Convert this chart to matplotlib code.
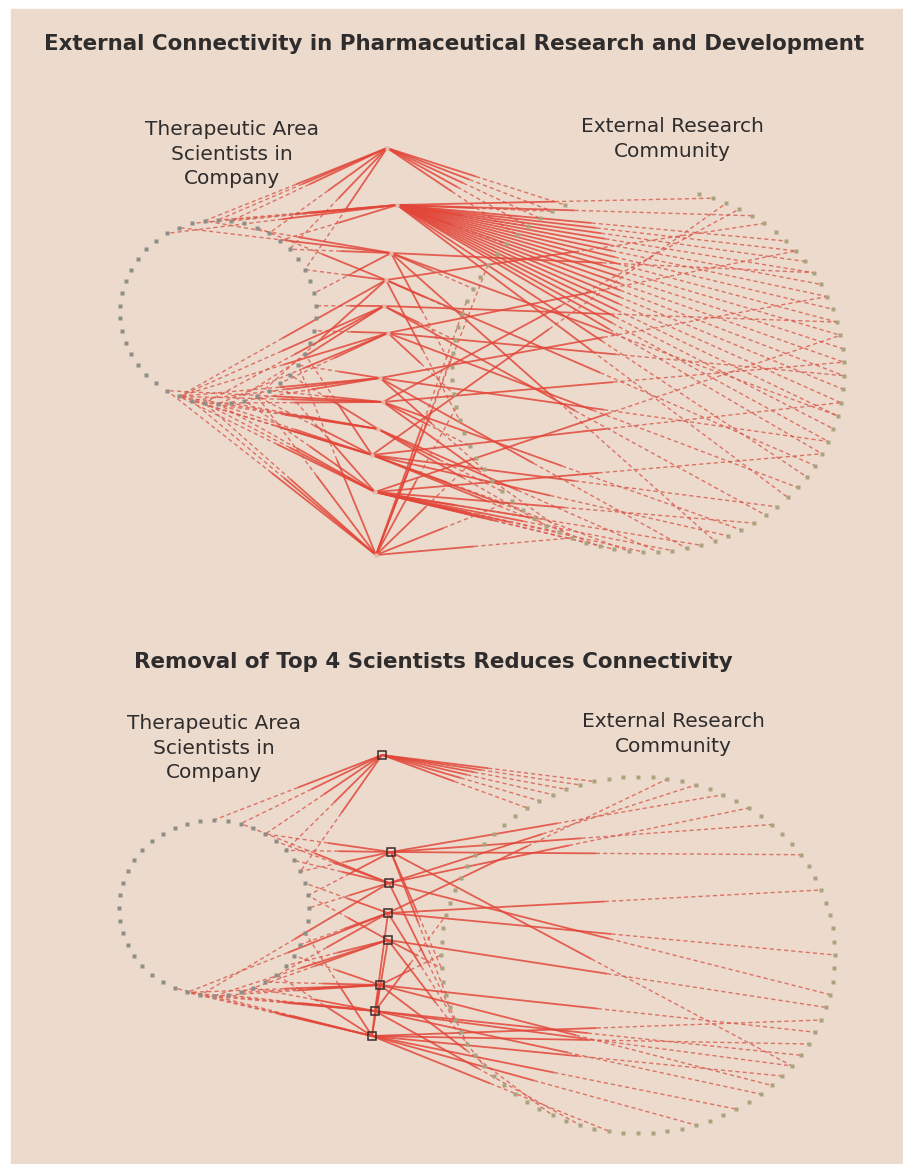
import numpy as np
import matplotlib
matplotlib.use("Agg")
import matplotlib.pyplot as plt
from matplotlib.patches import Rectangle

# ---- data ----
# top network: hub scientists in the middle column
top_hub_x = [387, 397, 391, 386, 384, 388, 380, 383, 378, 372, 375, 376]
top_hub_y = [148, 205, 253, 280, 306, 333, 378, 402, 429, 455, 492, 555]
# links hub -> external community node (index on right ring)
top_right_links = [
    [71, 72, 73, 74, 75],
    [1, 4, 7, 8, 9, 10, 11, 12, 13, 14, 15, 16, 17, 18, 19, 20, 21, 22, 23, 24, 26, 28, 70, 72, 74],
    [10, 21, 34, 60, 66],
    [5, 25, 56, 64],
    [14, 30, 62],
    [8, 18, 27, 58],
    [12, 23, 36, 52],
    [3, 17, 32, 44, 54],
    [38, 46, 50],
    [20, 29, 33, 40, 42, 48, 2],
    [15, 24, 31, 35, 37, 41, 43, 45, 47, 39],
    [44, 53, 57, 61, 65, 68, 49],
]
# links hub -> company scientist node (index on left ring)
top_left_links = [
    [0, 1, 45, 42, 40, 38],
    [0, 2, 4, 45, 41],
    [1, 3, 40, 36],
    [43, 38, 26, 20],
    [22, 24, 35, 20],
    [20, 23, 28, 33],
    [21, 25, 30, 20],
    [20, 22, 27, 19],
    [20, 24, 29, 21],
    [20, 21, 26, 31, 23],
    [20, 23, 25, 28, 22],
    [19, 22, 26, 30, 21],
]

# bottom network: same after removal of the top 4 hubs
bot_hub_x = [382, 391, 389, 388, 388, 380, 375, 372]
bot_hub_y = [755, 852, 883, 913, 940, 985, 1011, 1036]
bot_right_links = [
    [76, 77, 78, 79, 80, 81],
    [6, 60, 13, 30, 62, 10],
    [8, 56, 24, 4],
    [2, 21, 58, 16],
    [25, 62, 54],
    [27, 48, 32, 63],
    [30, 33, 46, 29, 66],
    [28, 35, 38, 44, 31, 26],
]
bot_left_links = [
    [0, 42, 40, 38, 36],
    [40, 38, 36, 34],
    [42, 37, 33, 21, 39],
    [35, 30, 26, 20],
    [34, 28, 24, 22],
    [22, 24, 26, 29, 20],
    [21, 23, 25, 20],
    [20, 22, 27, 31, 19],
]
bot_hub_pairs = [(5, 6), (6, 7), (7, 4), (6, 3)]

# ring layouts: centre x, centre y, radius x, radius y, node count, start angle, span
top_left_ring = (218, 312, 98, 92, 46, 90, 360)
top_right_ring = (648, 370, 196, 182, 76, 75, -320)
bot_left_ring = (214, 908, 95, 88, 44, 90, 360)
bot_right_ring = (638, 955, 197, 178, 84, 90, -360)

BG = "#ecdacc"
RED = "#e2473a"
RED_DASH = "#d9584c"


def ring(cx, cy, rx, ry, n, start, span):
    step = span / n if abs(span) == 360 else span / (n - 1)
    a = np.radians(start + step * np.arange(n))
    return cx + rx * np.cos(a), cy - ry * np.sin(a)


def edge(ax, p, q):
    # solid half at the hub end, dashed half at the ring end
    m = ((p[0] + q[0]) / 2, (p[1] + q[1]) / 2)
    ax.plot([p[0], m[0]], [p[1], m[1]], color=RED, lw=1.3, alpha=0.85,
            solid_capstyle="butt", zorder=2)
    ax.plot([m[0], q[0]], [m[1], q[1]], color=RED_DASH, lw=1.0, alpha=0.8,
            dashes=(3, 2.2), zorder=2)


def network(ax, hx, hy, lring, rring, llinks, rlinks, dark_hubs, pairs=()):
    lx, ly = ring(*lring)
    rx, ry = ring(*rring)
    for i in range(len(hx)):
        for j in llinks[i]:
            edge(ax, (hx[i], hy[i]), (lx[j], ly[j]))
        for k in rlinks[i]:
            edge(ax, (hx[i], hy[i]), (rx[k], ry[k]))
    for a, b in pairs:
        ax.plot([hx[a], hx[b]], [hy[a], hy[b]], color=RED, lw=1.3, alpha=0.85, zorder=2)
    ax.plot(lx, ly, "s", ms=3.4, color="#8e8d88", mec="none", zorder=3)
    ax.plot(rx, ry, "s", ms=3.4, color="#a9a47f", mec="none", zorder=3)
    if dark_hubs:
        ax.plot(hx, hy, "s", ms=6, mfc="none", mec="#3b2b2b", mew=1.1, zorder=4)
    else:
        ax.plot(hx, hy, "s", ms=3, color="#e9b9a9", mec="none", zorder=4)


fig = plt.figure(figsize=(9.04, 11.64), dpi=100, facecolor="white")
ax = fig.add_axes([0, 0, 1, 1])
ax.set_xlim(0, 904)
ax.set_ylim(1164, 0)
ax.axis("off")
ax.add_patch(Rectangle((11, 9), 893, 1155, color=BG, zorder=0))

network(ax, top_hub_x, top_hub_y, top_left_ring, top_right_ring,
        top_left_links, top_right_links, False)
network(ax, bot_hub_x, bot_hub_y, bot_left_ring, bot_right_ring,
        bot_left_links, bot_right_links, True, bot_hub_pairs)

title_kw = dict(ha="center", va="center", fontsize=15.4, fontweight="bold",
                color="#2e2c2c", family="DejaVu Sans")
label_kw = dict(ha="center", va="center", fontsize=14.5, color="#2e2c2c",
                family="DejaVu Sans", linespacing=1.38)

ax.text(454, 44, "External Connectivity in Pharmaceutical Research and Development", **title_kw)
ax.text(232, 154, "Therapeutic Area\nScientists in\nCompany", **label_kw)
ax.text(672, 139, "External Research\nCommunity", **label_kw)

ax.text(433, 662, "Removal of Top 4 Scientists Reduces Connectivity", **title_kw)
ax.text(214, 748, "Therapeutic Area\nScientists in\nCompany", **label_kw)
ax.text(673, 734, "External Research\nCommunity", **label_kw)

fig.savefig("out.png", dpi=100, facecolor="white")
